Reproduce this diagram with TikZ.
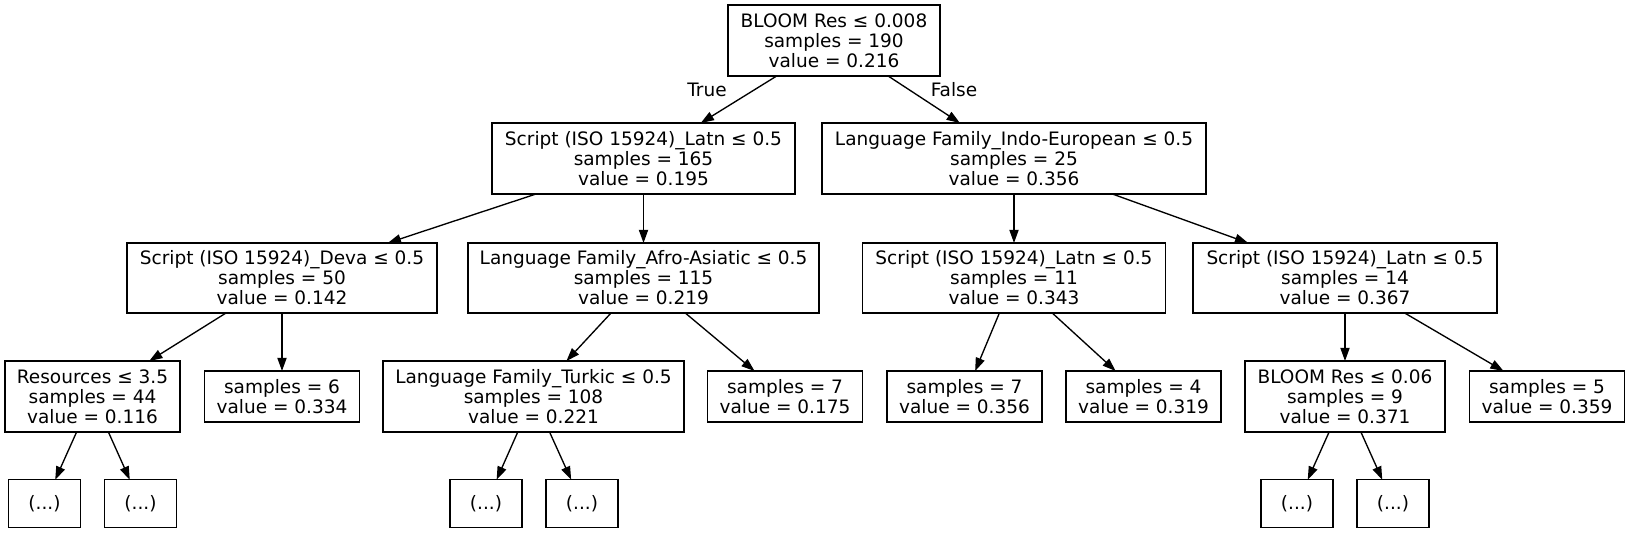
\documentclass[tikz,border=0pt]{standalone}
\usepackage{fontspec}
\setmainfont{DejaVu Sans}
\usetikzlibrary{arrows.meta}
\begin{document}
\begin{tikzpicture}[x=0.5pt,y=-0.5pt,
  box/.style={draw, line width=0.67pt, inner sep=0pt, outer sep=0pt, align=center,
    font=\fontsize{9.25}{10}\selectfont},
  bw/.style={minimum width=#1*0.5pt},
  bh/.style={minimum height=#1*0.5pt},
  lbl/.style={inner sep=0pt, font=\fontsize{9.25}{10}\selectfont},
  edge/.style={line width=0.67pt, -{Triangle[length=6.6pt,width=4.6pt]}}]
\useasboundingbox (0,0) rectangle (1629,533);
% level 0
\node[box,bw=212,bh=71] (root) at (834,40.5) {BLOOM Res ≤ 0.008\\samples = 190\\value = 0.216};
% level 1
\node[box,bw=303,bh=71] (A) at (643.5,158.5) {Script (ISO 15924)\_Latn ≤ 0.5\\samples = 165\\value = 0.195};
\node[box,bw=384,bh=71] (B) at (1014,158.5) {Language Family\_Indo-European ≤ 0.5\\samples = 25\\value = 0.356};
% level 2
\node[box,bw=310,bh=70] (C) at (282,278) {Script (ISO 15924)\_Deva ≤ 0.5\\samples = 50\\value = 0.142};
\node[box,bw=351,bh=70] (D) at (643.5,278) {Language Family\_Afro-Asiatic ≤ 0.5\\samples = 115\\value = 0.219};
\node[box,bw=303,bh=70] (E) at (1014,278) {Script (ISO 15924)\_Latn ≤ 0.5\\samples = 11\\value = 0.343};
\node[box,bw=304,bh=70] (F) at (1345,278) {Script (ISO 15924)\_Latn ≤ 0.5\\samples = 14\\value = 0.367};
% level 3
\node[box,bw=175,bh=71] (G) at (92.5,396.5) {Resources ≤ 3.5\\samples = 44\\value = 0.116};
\node[box,bw=155,bh=51] (H) at (282,396.5) {samples = 6\\value = 0.334};
\node[box,bw=301,bh=71] (I) at (533.5,396.5) {Language Family\_Turkic ≤ 0.5\\samples = 108\\value = 0.221};
\node[box,bw=155,bh=51] (J) at (785,396.5) {samples = 7\\value = 0.175};
\node[box,bw=155,bh=51] (K) at (964.5,396.5) {samples = 7\\value = 0.356};
\node[box,bw=155,bh=51] (L) at (1143.5,396.5) {samples = 4\\value = 0.319};
\node[box,bw=200,bh=71] (M) at (1345,396.5) {BLOOM Res ≤ 0.06\\samples = 9\\value = 0.371};
\node[box,bw=155,bh=51] (N) at (1547,396.5) {samples = 5\\value = 0.359};
% level 4
\node[box,bw=72,bh=48] (G1) at (44.5,503.7) {(...)};
\node[box,bw=72,bh=48] (G2) at (140.5,503.7) {(...)};
\node[box,bw=72,bh=48] (I1) at (486,503.7) {(...)};
\node[box,bw=72,bh=48] (I2) at (582,503.7) {(...)};
\node[box,bw=72,bh=48] (M1) at (1297,503.7) {(...)};
\node[box,bw=72,bh=48] (M2) at (1393,503.7) {(...)};
% edge labels
\node[lbl] (tl) at (707,90) {True};
\node[lbl] (fl) at (954,90) {False};
% edges
\draw[edge] (root) -- (A);
\draw[edge] (root) -- (B);
\draw[edge] (A) -- (C);
\draw[edge] (A) -- (D);
\draw[edge] (B) -- (E);
\draw[edge] (B) -- (F);
\draw[edge] (C) -- (G);
\draw[edge] (C) -- (H);
\draw[edge] (D) -- (I);
\draw[edge] (D) -- (J);
\draw[edge] (E) -- (K);
\draw[edge] (E) -- (L);
\draw[edge] (F) -- (M);
\draw[edge] (F) -- (N);
\draw[edge] (G) -- (G1);
\draw[edge] (G) -- (G2);
\draw[edge] (I) -- (I1);
\draw[edge] (I) -- (I2);
\draw[edge] (M) -- (M1);
\draw[edge] (M) -- (M2);
\end{tikzpicture}
\end{document}
